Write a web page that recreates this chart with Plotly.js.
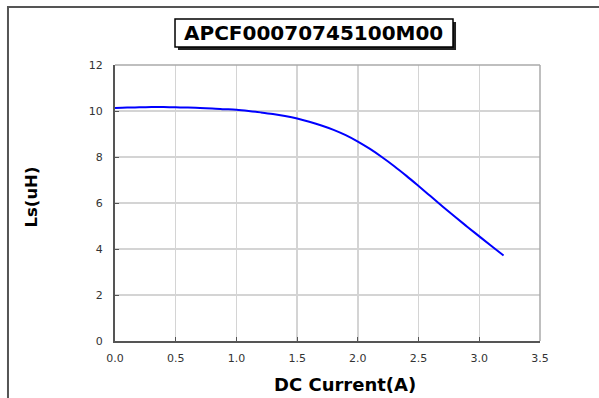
<!DOCTYPE html>
<html>
<head>
<meta charset="utf-8">
<script src="https://cdn.plot.ly/plotly-3.0.1.min.js"></script>
<style>html,body{margin:0;padding:0;background:#fff;}#chart{width:599px;height:398px;}</style>
</head>
<body>
<div id="chart"></div>
<script>
const chartTitle = "APCF00070745100M00";
const xTitle = "DC Current(A)";
const yTitle = "Ls(uH)";
const currentA = [0.0,0.1,0.2,0.3,0.4,0.5,0.6,0.7,0.8,0.9,1.0,1.1,1.2,1.3,1.4,1.5,1.6,1.7,1.8,1.9,2.0,2.1,2.2,2.3,2.4,2.5,2.6,2.7,2.8,2.9,3.0,3.1,3.2];
const lsUH = [10.13,10.15,10.16,10.17,10.17,10.16,10.15,10.13,10.11,10.08,10.05,10.00,9.94,9.87,9.78,9.67,9.53,9.37,9.18,8.95,8.67,8.35,7.99,7.60,7.18,6.74,6.29,5.84,5.40,4.97,4.55,4.13,3.72];
const xTickVals = [0,0.5,1,1.5,2,2.5,3,3.5];
const xTickText = ["0.0","0.5","1.0","1.5","2.0","2.5","3.0","3.5"];
const yTickVals = [0,2,4,6,8,10,12];

const trace = {
  x: currentA, y: lsUH, type: 'scatter', mode: 'lines',
  line: {color: '#0000ff', width: 2, shape: 'spline', smoothing: 1},
  hoverinfo: 'skip'
};

const axisCommon = {
  showgrid: true, gridcolor: '#d4d4d4', gridwidth: 1.3,
  zeroline: false, showline: true, linecolor: '#555555', linewidth: 2,
  ticks: 'inside', ticklen: 4, tickcolor: '#555555', tickwidth: 1,
  tickfont: {family: 'DejaVu Sans', size: 11, color: '#333'},
  fixedrange: true
};

const layout = {
  width: 599, height: 398,
  margin: {l: 115, r: 59, t: 65, b: 57},
  paper_bgcolor: '#ffffff', plot_bgcolor: '#ffffff',
  showlegend: false,
  xaxis: Object.assign({}, axisCommon, {range: [0, 3.5], tickmode: 'array', tickvals: xTickVals, ticktext: xTickText, ticklabelstandoff: 6}),
  yaxis: Object.assign({}, axisCommon, {range: [0, 12], tickmode: 'array', tickvals: yTickVals, ticklabelstandoff: 8}),
  shapes: [
    {type: 'rect', xref: 'paper', yref: 'paper', x0: -0.2518, x1: 1.4, y0: -0.4, y1: 1.210, line: {color: '#555555', width: 2}, fillcolor: 'rgba(0,0,0,0)', layer: 'below'},
    {type: 'line', xref: 'paper', yref: 'paper', x0: 0, x1: 1, y0: 1, y1: 1, line: {color: '#aaaaaa', width: 1.5}},
    {type: 'line', xref: 'paper', yref: 'paper', x0: 1, x1: 1, y0: 0, y1: 1, line: {color: '#aaaaaa', width: 1.5}},
    {type: 'rect', xref: 'paper', yref: 'paper', x0: 0.1482, x1: 0.8024, y0: 1.0543, y1: 1.1558, line: {width: 0}, fillcolor: '#222222'},
    {type: 'rect', xref: 'paper', yref: 'paper', x0: 0.1412, x1: 0.7953, y0: 1.0652, y1: 1.1667, line: {color: '#000000', width: 1.5}, fillcolor: '#ffffff'}
  ],
  annotations: [
    {text: chartTitle, xref: 'paper', yref: 'paper', x: 0.4682, y: 1.1159, xanchor: 'center', yanchor: 'middle', showarrow: false, font: {family: 'DejaVu Sans', size: 20, color: '#000', weight: 'bold'}},
    {text: xTitle, xref: 'paper', yref: 'paper', x: 0.542, y: -0.1594, xanchor: 'center', yanchor: 'middle', showarrow: false, font: {family: 'DejaVu Sans', size: 18, color: '#000', weight: 'bold'}},
    {text: yTitle, xref: 'paper', yref: 'paper', x: -0.1976, y: 0.52, xanchor: 'center', yanchor: 'middle', textangle: -90, showarrow: false, font: {family: 'DejaVu Sans', size: 16.5, color: '#000', weight: 'bold'}}
  ]
};

Plotly.newPlot('chart', [trace], layout, {displayModeBar: false, staticPlot: true});
</script>
</body>
</html>
